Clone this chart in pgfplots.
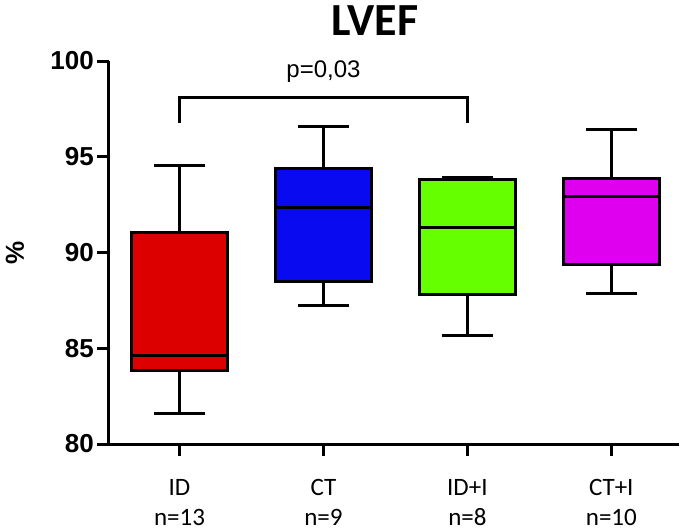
\documentclass[border=0pt]{standalone}
\usepackage{fontspec}
\setmainfont{Liberation Sans}
\newfontfamily\carlito{Carlito}
\usepackage{pgfplots}
\pgfplotsset{compat=1.18}
\usepgfplotslibrary{statistics}
\definecolor{cred}{HTML}{DC0000}
\definecolor{cblue}{HTML}{0A0AF0}
\definecolor{cgreen}{HTML}{66FF00}
\definecolor{cmag}{HTML}{E000F0}
\begin{document}
\begin{tikzpicture}
\useasboundingbox (-109pt,-87pt) rectangle (576pt,444pt);
\begin{axis}[
  at={(0,0)}, anchor=south west,
  scale only axis, width=570pt, height=383pt,
  xmin=-0.49, xmax=3.47, ymin=80, ymax=100,
  axis x line*=bottom, axis y line*=left,
  axis line style={line width=3pt, -},
  xtick={0,1,2,3},
  xticklabels={{ID\\n=13},{CT\\n=9},{ID+I\\n=8},{CT+I\\n=10}},
  xticklabel style={align=center, anchor=north, inner sep=0pt, yshift=-23pt,
    font=\carlito\fontsize{25}{30}\selectfont},
  ytick={80,85,90,95,100},
  yticklabel style={anchor=east, inner sep=0pt, xshift=-3pt, font=\bfseries\fontsize{26}{30}\selectfont},
  /pgf/number format/assume math mode=true,
  tick align=outside, major tick length=12pt,
  xmajorticks=true, ymajorticks=true,
  xtick style={line width=3pt, black},
  ytick style={line width=3pt, black},
  ylabel={\%},
  ylabel style={at={(axis description cs:-0.165,0.5)}, anchor=center,
    font=\bfseries\fontsize{26}{30}\selectfont},
  clip=false,
]
\addplot[boxplot prepared={draw direction=y, draw position=0, lower whisker=81.6, lower quartile=83.86,
  median=84.6, upper quartile=91.03, upper whisker=94.52, box extend=0.667, whisker extend=0.35},
  fill=cred, draw=black, line width=3pt] coordinates {};
\addplot[boxplot prepared={draw direction=y, draw position=1, lower whisker=87.22, lower quartile=88.51,
  median=92.34, upper quartile=94.4, upper whisker=96.6, box extend=0.667, whisker extend=0.35},
  fill=cblue, draw=black, line width=3pt] coordinates {};
\addplot[boxplot prepared={draw direction=y, draw position=2, lower whisker=85.69, lower quartile=87.83,
  median=91.32, upper quartile=93.82, upper whisker=93.9, box extend=0.667, whisker extend=0.35},
  fill=cgreen, draw=black, line width=3pt] coordinates {};
\addplot[boxplot prepared={draw direction=y, draw position=3, lower whisker=87.88, lower quartile=89.38,
  median=92.91, upper quartile=93.84, upper whisker=96.4, box extend=0.667, whisker extend=0.35},
  fill=cmag, draw=black, line width=3pt] coordinates {};
% bracket for the significance test
\addplot[black, line width=3pt, mark=none] coordinates {(0,96.75) (0,98.08) (2,98.08) (2,96.75)};
\node[font=\fontsize{24}{28}\selectfont, anchor=base] at (axis cs:1,99.16) {p=0,03};
\coordinate (t0) at (axis cs:0,80);
\coordinate (t1) at (axis cs:1,80);
\coordinate (t2) at (axis cs:2,80);
\coordinate (t3) at (axis cs:3,80);
\end{axis}
% x tick marks below the axis
\foreach \t in {t0,t1,t2,t3} {\draw[black, line width=3pt] (\t) -- ++(0,-12pt);}
\node[font=\carlito\bfseries\fontsize{46}{52}\selectfont, anchor=base] at (266pt,408pt) {LVEF};
\end{tikzpicture}
\end{document}
